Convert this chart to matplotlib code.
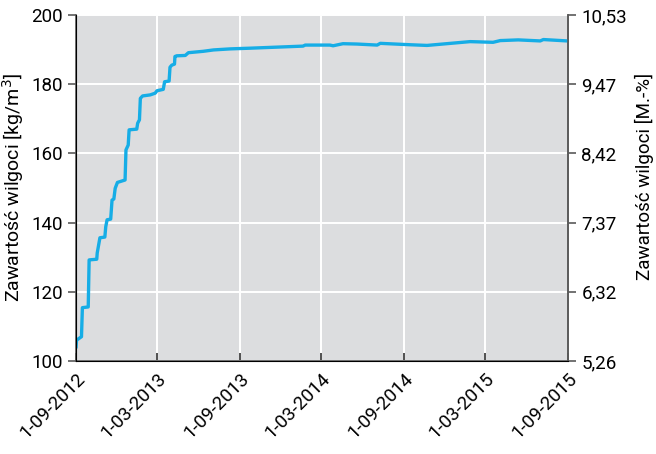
import pandas as pd
import matplotlib
matplotlib.use("Agg")
import matplotlib.pyplot as plt

plt.rcParams["font.family"] = ["Roboto", "DejaVu Sans"]

# --------------------------
# Data
# --------------------------

dates = [
    "2012-09-01", "2012-09-02", "2012-09-13", "2012-09-15", "2012-09-28",
    "2012-09-30", "2012-10-17", "2012-10-18", "2012-10-24", "2012-11-04",
    "2012-11-06", "2012-11-09", "2012-11-17", "2012-11-20", "2012-11-24",
    "2012-11-27", "2012-12-02", "2012-12-19", "2012-12-21", "2012-12-26",
    "2012-12-28", "2013-01-14", "2013-01-16", "2013-01-20", "2013-01-22",
    "2013-01-27", "2013-02-13", "2013-02-24", "2013-02-28", "2013-03-14",
    "2013-03-17", "2013-03-27", "2013-03-29", "2013-04-02", "2013-04-08",
    "2013-04-09", "2013-04-13", "2013-05-02", "2013-05-09", "2013-06-11",
    "2013-07-04", "2013-08-10", "2013-09-23", "2014-01-19", "2014-01-24",
    "2014-03-20", "2014-03-27", "2014-04-18", "2014-05-19", "2014-07-03",
    "2014-07-10", "2014-09-14", "2014-10-22", "2015-01-26", "2015-03-18",
    "2015-04-03", "2015-05-13", "2015-07-01", "2015-07-08", "2015-08-30",
]

moisture = [
    104.1, 106.0, 107.0, 115.4, 115.6,
    129.2, 129.4, 131.2, 135.6, 135.8,
    138.8, 140.8, 141.0, 146.5, 146.8,
    149.9, 151.6, 152.3, 161.0, 162.4,
    166.8, 167.0, 168.7, 169.7, 175.9,
    176.6, 176.9, 177.4, 178.1, 178.5,
    180.7, 180.9, 184.9, 185.5, 185.8,
    188.0, 188.2, 188.3, 189.1, 189.5,
    189.9, 190.2, 190.4, 191.0, 191.3,
    191.3, 191.1, 191.7, 191.6, 191.3,
    191.8, 191.4, 191.2, 192.3, 192.1,
    192.6, 192.8, 192.5, 192.9, 192.5,
]

x_ticks = ["2012-09-01", "2013-03-01", "2013-09-01", "2014-03-01",
           "2014-09-01", "2015-03-01", "2015-09-01"]
x_labels = ["1-09-2012", "1-03-2013", "1-09-2013", "1-03-2014",
            "1-09-2014", "1-03-2015", "1-09-2015"]

left_ticks = [100, 120, 140, 160, 180, 200]
right_labels = ["5,26", "6,32", "7,37", "8,42", "9,47", "10,53"]

# --------------------------
# Plot
# --------------------------

fig = plt.figure(figsize=(6.56, 4.54), dpi=100)
ax = fig.add_axes([0.116, 0.205, 0.75, 0.762])
ax.set_facecolor("#dcdddf")

ax.plot(pd.to_datetime(dates), moisture, color="#16ade6", lw=2.4, zorder=3)

ax.set_xlim(pd.Timestamp("2012-09-01"), pd.Timestamp("2015-09-01"))
ax.set_ylim(100, 200)

ax.set_xticks(pd.to_datetime(x_ticks))
ax.set_xticklabels(x_labels, rotation=45, ha="right", rotation_mode="anchor")
ax.set_yticks(left_ticks)

ax.grid(True, color="white", lw=1.4, zorder=1)
ax.set_axisbelow(True)

for side in ["left", "bottom", "right"]:
    ax.spines[side].set_color("#5a5a5a")
    ax.spines[side].set_linewidth(1.2)
ax.spines["top"].set_visible(False)

ax.tick_params(axis="x", direction="in", length=6, width=1.2,
               color="#333333", labelsize=13.5, pad=6)
ax.tick_params(axis="y", direction="out", length=6, width=1.2,
               color="#5a5a5a", labelsize=13.5)

ax.set_ylabel("Zawartość wilgoci [kg/m$^3$]", fontsize=14, labelpad=4)

ax2 = ax.twinx()
ax2.set_ylim(100, 200)
ax2.set_yticks(left_ticks)
ax2.set_yticklabels(right_labels)
ax2.tick_params(axis="y", direction="out", length=6, width=1.2,
                color="#5a5a5a", labelsize=13.5)
ax2.spines["top"].set_visible(False)
ax2.spines["right"].set_color("#5a5a5a")
ax2.spines["right"].set_linewidth(1.2)
ax2.set_ylabel("Zawartość wilgoci [M.-%]", fontsize=13.5)
ax2.yaxis.set_label_coords(1.136, 0.532)

plt.savefig("out.png", dpi=100)
plt.close()
